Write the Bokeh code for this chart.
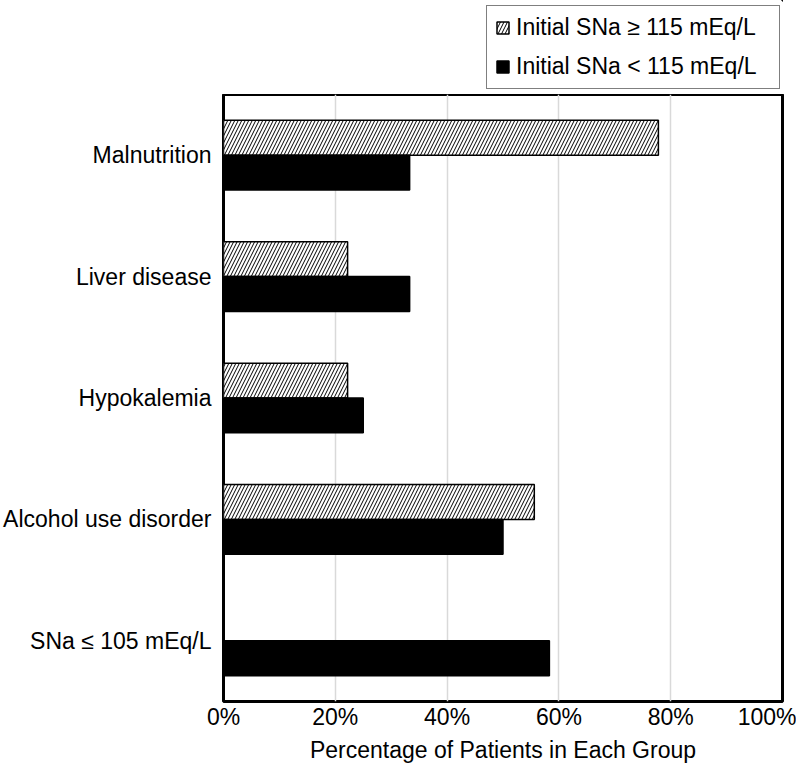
from bokeh.plotting import figure
from bokeh.layouts import column
from bokeh.models import FactorRange, FixedTicker, Legend, LegendItem, ColumnDataSource
from bokeh.transform import dodge
from bokeh.embed import file_html
from bokeh.resources import INLINE

categories = ["Malnutrition", "Liver disease", "Hypokalemia", "Alcohol use disorder", "SNa \u2264 105 mEq/L"]
high_sna = [77.8, 22.2, 22.2, 55.6, 0.0]      # Initial SNa >= 115 mEq/L
low_sna = [33.3, 33.3, 25.0, 50.0, 58.3]      # Initial SNa < 115 mEq/L
series_names = ["Initial SNa \u2265 115 mEq/L", "Initial SNa < 115 mEq/L"]
tick_values = [0, 20, 40, 60, 80, 100]
tick_labels = ["0%", "20%", "40%", "60%", "80%", "100%"]
x_title = "Percentage of Patients in Each Group"

FONT = "Liberation Sans"
FS = "23px"
W = 796
LEG_H = 94

hatch_style = dict(fill_color="white", line_color="black", line_width=1.5,
                   hatch_pattern="/", hatch_color="black", hatch_weight=1.0, hatch_scale=7)
solid_style = dict(fill_color="black", line_color="black", line_width=1.5)

src = ColumnDataSource(dict(cat=categories, hi=high_sna, lo=low_sna))

# ---- legend strip (kept outside the plot frame) ----
# The swatch renderers reuse the real data; their bars fall entirely outside this
# strip's (hidden) x and y ranges, so only the legend swatches are visible here.
pl = figure(width=W, height=LEG_H, output_backend="svg", toolbar_location=None,
            x_range=(-300, -200), y_range=(-300, -200), x_axis_location=None, y_axis_location=None,
            min_border_left=0, min_border_right=0, min_border_top=0, min_border_bottom=0)
pl.outline_line_color = None
pl.grid.visible = False
d_hi = pl.hbar(y="hi", right="hi", left=0, height=0.1, source=src, **hatch_style)
d_lo = pl.hbar(y="lo", right="lo", left=0, height=0.1, source=src, **solid_style)
legend = Legend(items=[LegendItem(label=series_names[0], renderers=[d_hi], index=0),
                       LegendItem(label=series_names[1], renderers=[d_lo], index=0)],
                location=(263, 5), orientation="vertical",
                label_text_font=FONT, label_text_font_size=FS, label_text_color="black",
                glyph_width=15, glyph_height=15, label_height=26, spacing=12,
                padding=8, margin=0, label_standoff=6, label_width=255,
                border_line_color="black", border_line_width=1.5,
                background_fill_color="white", background_fill_alpha=1.0)
pl.add_layout(legend, "center")

# ---- main chart ----
p = figure(width=W, height=765 - LEG_H, output_backend="svg", toolbar_location=None,
           y_range=FactorRange(factors=list(reversed(categories)), range_padding=0),
           x_range=(0, 100))

bh = 0.287
p.hbar(y=dodge("cat", bh / 2, range=p.y_range), right="hi", left=0, height=bh, source=src, **hatch_style)
p.hbar(y=dodge("cat", -bh / 2, range=p.y_range), right="lo", left=0, height=bh, source=src, **solid_style)

p.outline_line_color = "black"
p.outline_line_width = 3

p.xaxis.ticker = FixedTicker(ticks=tick_values)
p.xaxis.major_label_overrides = {v: l for v, l in zip(tick_values, tick_labels)}
p.xaxis.axis_label = x_title
for ax in (p.xaxis[0], p.yaxis[0]):
    ax.axis_line_color = None
    ax.major_tick_line_color = None
    ax.minor_tick_line_color = None
    ax.major_tick_out = 0
    ax.major_tick_in = 0
    ax.minor_tick_out = 0
    ax.minor_tick_in = 0
    ax.major_label_text_font = FONT
    ax.major_label_text_font_size = FS
    ax.major_label_text_color = "black"
p.xaxis.axis_label_text_font = FONT
p.xaxis.axis_label_text_font_size = FS
p.xaxis.axis_label_text_font_style = "normal"
p.xaxis.axis_label_text_color = "black"
p.xaxis.major_label_standoff = 2
p.xaxis.axis_label_standoff = 4
p.yaxis.major_label_standoff = 12

p.xgrid.ticker = FixedTicker(ticks=tick_values)
p.xgrid.grid_line_color = "#d9d9d9"
p.xgrid.grid_line_width = 1.5
p.ygrid.grid_line_color = None

p.min_border_left = 0
p.min_border_right = 14
p.min_border_bottom = 0
p.min_border_top = 0

layout = column(pl, p, spacing=0)
open("out.html", "w").write(file_html(layout, INLINE))
